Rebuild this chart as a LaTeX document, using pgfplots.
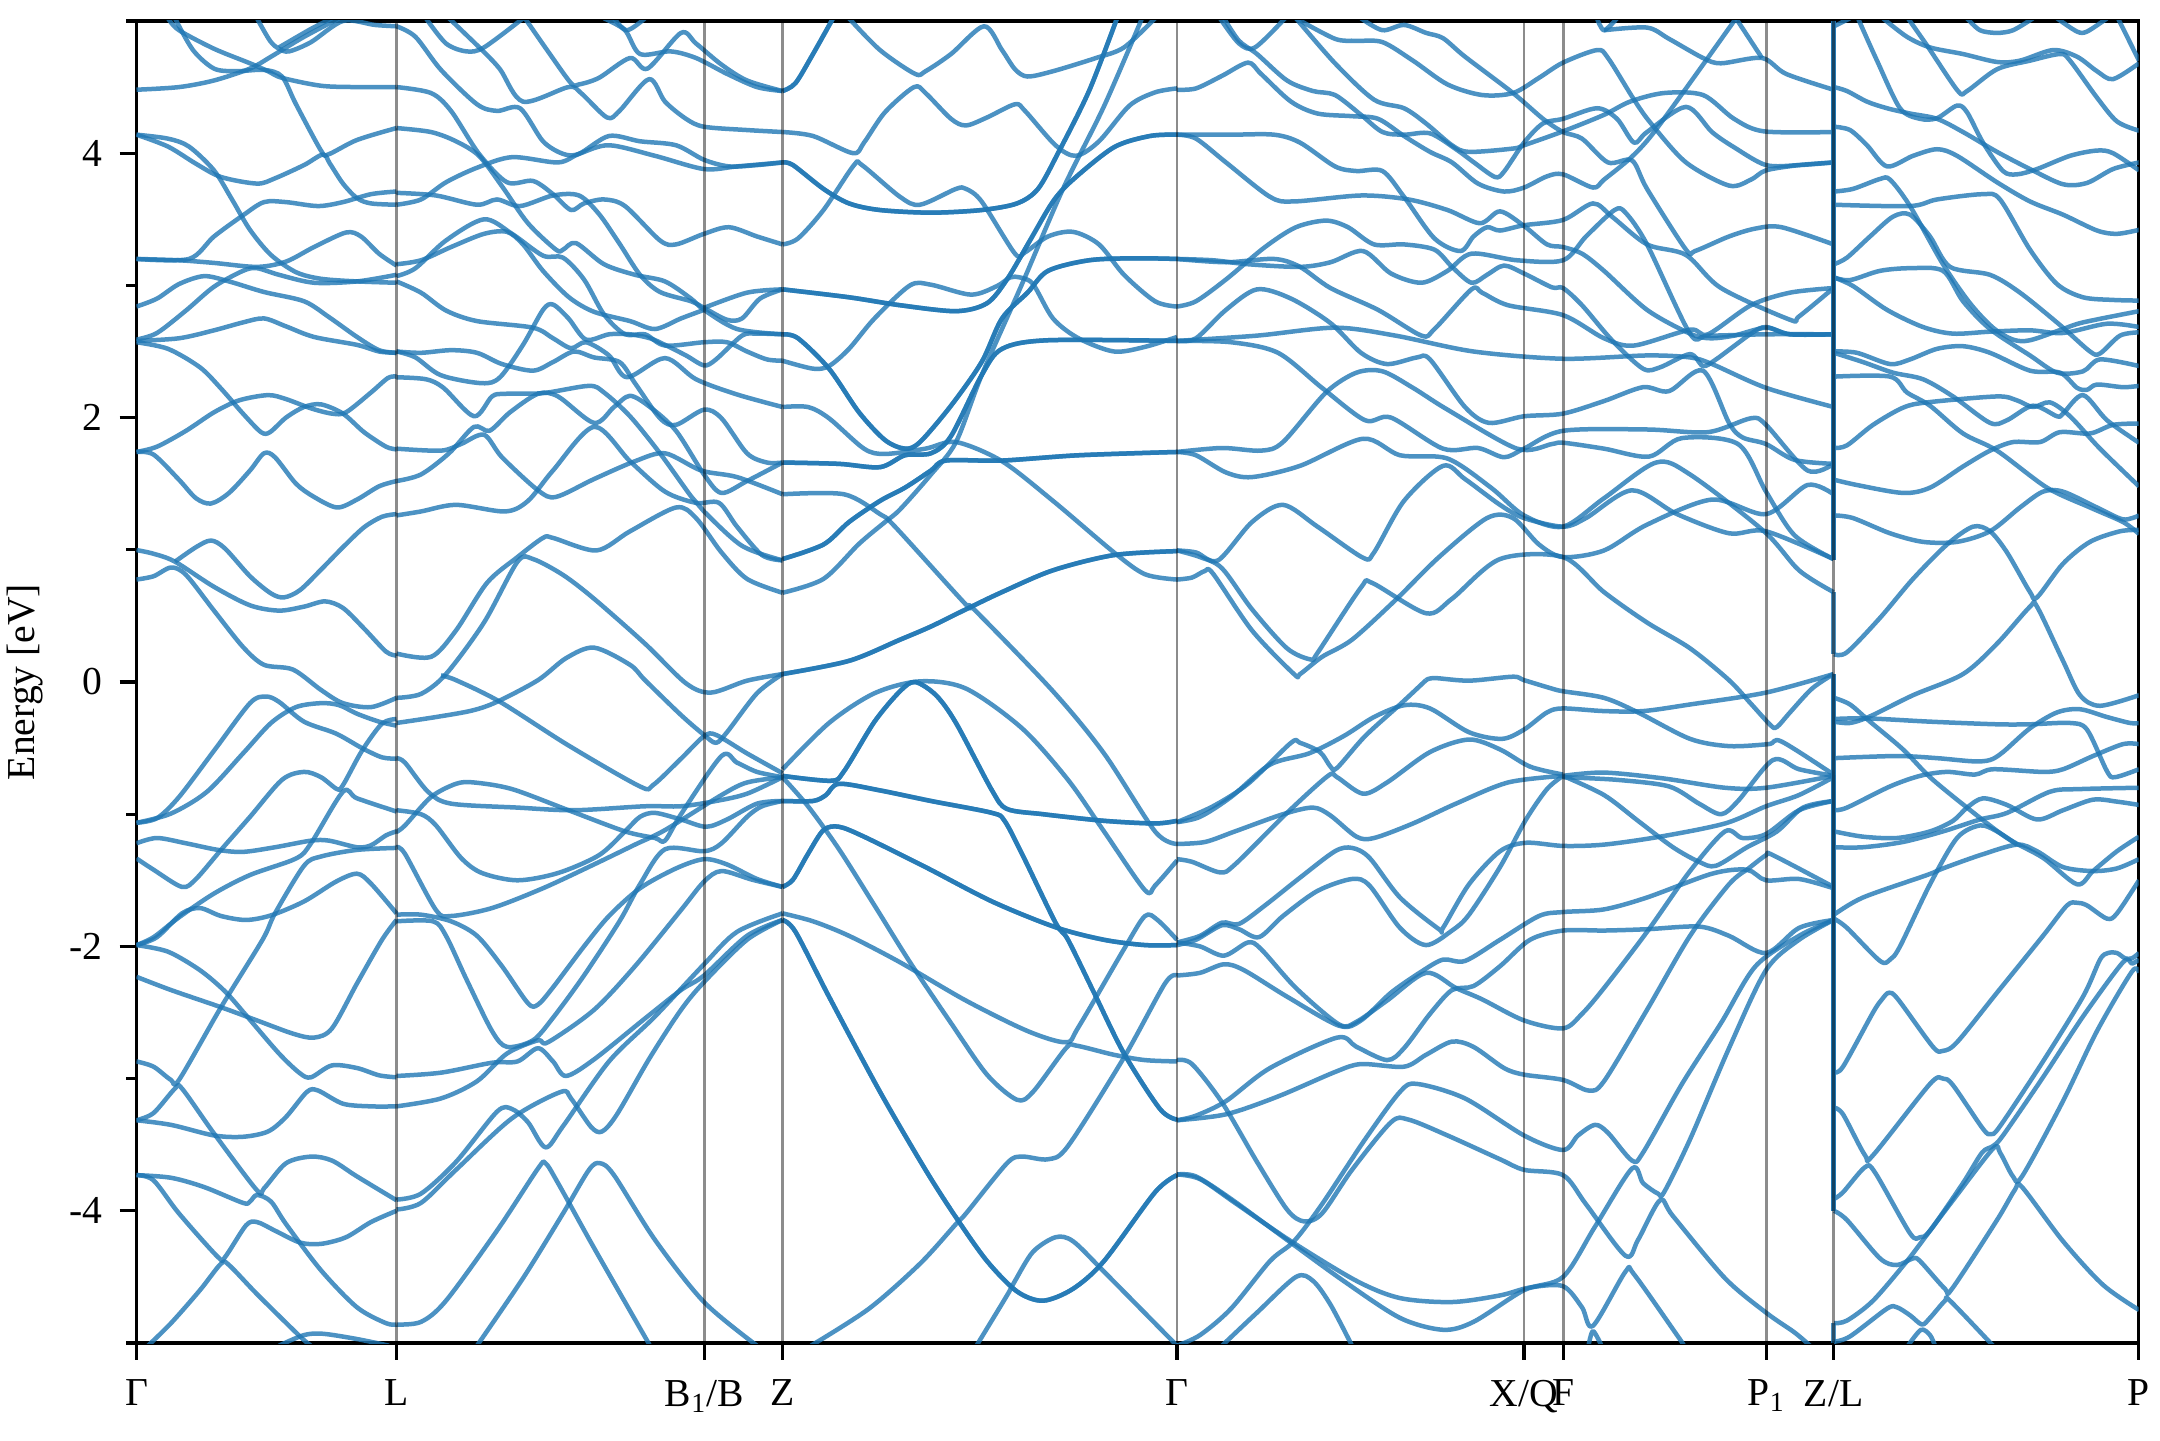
\documentclass[border=0pt]{standalone}
\usepackage{fontspec}
\setmainfont{Liberation Serif}
\usepackage{pgfplots}
\pgfplotsset{compat=1.18}
\definecolor{bandblue}{HTML}{1F77B4}
\pgfplotsset{band/.style={color=bandblue,opacity=0.8,line width=1.5pt,smooth,tension=0.5,line join=round,mark=none}}
\newcommand{\B}[1]{\addplot[band] coordinates {#1};}
\newcommand{\BB}[1]{\addplot[band] coordinates {#1};\addplot[band] coordinates {#1};}
\newcommand{\V}[1]{\addplot[black,opacity=0.45,line width=0.7pt] coordinates {(#1,-5)(#1,5)};}
\newcommand{\J}[2]{\addplot[color=bandblue,opacity=0.8,line width=1.5pt] coordinates {(1833.5,#1)(1833.5,#2)};}
\begin{document}
\begin{tikzpicture}
\useasboundingbox (-45.5pt,-32.33pt) rectangle (674.5pt,447.67pt);
\begin{axis}[
  at={(0,0)},anchor=south west,scale only axis,
  width=667.33pt,height=440.67pt,
  xmin=136.5,xmax=2138.5,ymin=-5,ymax=5,
  axis line style={line width=1.2pt},
  every tick/.style={black,line width=1.1pt},
  tick align=outside,tick pos=left,
  major tick length=5.6pt,minor tick length=3.4pt,
  xtick={136.5,396.5,704.5,782.5,1177,1524,1563.5,1766.5,1833.5,2138.5},
  xticklabels={Γ,L,B\textsubscript{1}/B,Z,Γ,X/Q,F,P\textsubscript{1},Z/L,P},
  ytick={-4,-2,0,2,4},yticklabels={-4,-2,0,2,4},
  minor ytick={-5,-3,-1,1,3,5},
  minor x tick num=0,
  tick label style={font=\fontsize{13.2}{15}\selectfont},
  xticklabel style={yshift=-3.2pt},
  yticklabel style={xshift=-2.3pt},
  ylabel={Energy [eV]},
  every axis y label/.style={at={(axis description cs:-0.0555,0.5)},anchor=center,rotate=90,font=\fontsize{13.2}{15}\selectfont},
  clip=true,
]
% Gamma - L
\B{(168,5.02)(179,4.93)(214,4.79)(250,4.68)(268,4.62)(282,4.57)(321,4.51)(357,4.50)(396.5,4.50)}
\B{(175,5.02)(193,4.78)(214,4.64)(236,4.62)(264,4.63)(282,4.58)(296,4.37)(321,4.02)(328,3.99)(357,4.10)(396.5,4.19)}
\B{(136.5,4.48)(179,4.50)(214,4.55)(250,4.64)(271,4.73)(304,4.88)(339,5.02)}
\B{(257,5.02)(270,4.85)(279,4.79)(289,4.77)(311,4.84)(343,5.0)(375,4.97)(396.5,4.96)}
\B{(279,4.80)(311,4.94)(332,5.02)}
\B{(136.5,4.14)(168,4.11)(189,4.05)(214,3.87)(232,3.65)(250,3.42)(271,3.23)(296,3.10)(321,3.05)(357,3.03)(396.5,3.02)}
\B{(136.5,4.14)(168,4.05)(196,3.92)(221,3.82)(257,3.77)(275,3.81)(304,3.91)(323,3.99)(330,3.92)(343,3.77)(357,3.66)(371,3.62)(396.5,3.61)}
\B{(136.5,3.20)(189,3.20)(214,3.37)(243,3.53)(264,3.63)(286,3.63)(318,3.60)(343,3.63)(371,3.69)(396.5,3.71)}
\B{(136.5,3.20)(179,3.19)(214,3.17)(257,3.14)(286,3.18)(314,3.29)(346,3.40)(361,3.37)(379,3.24)(396.5,3.15)}
\B{(136.5,2.84)(157,2.90)(179,3.01)(204,3.07)(229,3.03)(264,2.95)(304,2.88)(329,2.76)(357,2.61)(379,2.51)(396.5,2.49)}
\B{(136.5,2.59)(157,2.64)(186,2.81)(214,2.99)(243,3.11)(257,3.13)(279,3.08)(314,3.02)(357,3.03)(396.5,3.08)}
\B{(136.5,2.58)(179,2.60)(214,2.66)(243,2.72)(264,2.75)(286,2.69)(314,2.61)(357,2.55)(379,2.50)(396.5,2.49)}
\B{(136.5,2.57)(168,2.52)(200,2.38)(221,2.22)(243,2.03)(261,1.89)(270,1.89)(286,2.00)(304,2.08)(321,2.10)(343,2.03)(364,1.89)(386,1.78)(396.5,1.76)}
\B{(136.5,1.74)(157,1.78)(186,1.90)(214,2.04)(239,2.13)(268,2.17)(286,2.14)(311,2.07)(332,2.03)(346,2.04)(371,2.19)(388,2.30)(396.5,2.31)}
\B{(136.5,1.74)(153.6,1.72)(179,1.53)(196,1.39)(211,1.35)(229,1.43)(250,1.60)(264,1.73)(275,1.70)(296,1.50)(314,1.40)(337,1.32)(357,1.38)(379,1.48)(396.5,1.52)}
\B{(175,0.91)(196,1.02)(211,1.07)(225,1.01)(250,0.80)(271,0.67)(284,0.64)(300,0.695)(321,0.85)(343,1.02)(364,1.17)(382,1.25)(396.5,1.27)}
\B{(136.5,0.998)(153.6,0.97)(175,0.91)(214,0.72)(250,0.58)(279,0.54)(304,0.57)(325,0.61)(343,0.56)(364,0.405)(386,0.23)(396.5,0.20)}
\B{(136.5,0.775)(153.6,0.80)(171,0.866)(186,0.81)(214,0.54)(243,0.265)(264,0.13)(293,0.094)(321,-0.06)(343,-0.16)(371,-0.19)(396.5,-0.12)}
\B{(136.5,-1.065)(157,-1.03)(179,-0.87)(214,-0.52)(250,-0.16)(266,-0.11)(279,-0.15)(304,-0.30)(336,-0.39)(362,-0.50)(382,-0.57)(396.5,-0.58)}
\B{(136.5,-1.065)(171,-0.995)(207,-0.83)(243,-0.54)(271,-0.31)(296,-0.19)(321,-0.16)(339,-0.175)(357,-0.24)(379,-0.30)(396.5,-0.33)}
\B{(136.5,-1.22)(157,-1.18)(186,-1.22)(218,-1.27)(243,-1.285)(275,-1.25)(311,-1.20)(329,-1.20)(357,-1.25)(371,-1.235)(386,-1.16)(396.5,-1.13)}
\B{(136.5,-1.335)(153.6,-1.42)(182,-1.55)(196,-1.49)(221,-1.27)(250,-1.02)(282,-0.74)(304,-0.68)(321,-0.72)(337,-0.81)(343,-0.78)(362,-0.52)(382,-0.315)(396.5,-0.28)}
\B{(136.5,-1.99)(157,-1.93)(182,-1.75)(200,-1.71)(221,-1.77)(246,-1.80)(271,-1.765)(304,-1.66)(336,-1.51)(357,-1.45)(371,-1.525)(396.5,-1.75)}
\B{(136.5,-1.99)(153.6,-1.93)(179,-1.78)(214,-1.60)(250,-1.46)(296,-1.335)(311,-1.22)(343,-0.83)(357,-0.88)(396.5,-0.98)}
\B{(136.5,-2.87)(153.6,-2.91)(171,-3.01)(179,-3.01)(221,-2.46)(262.5,-1.95)(275,-1.75)(304,-1.39)(321,-1.32)(357,-1.27)(396.5,-1.255)}
\B{(136.5,-1.99)(168,-2.04)(200,-2.18)(225,-2.34)(246,-2.52)(279,-2.81)(300,-2.96)(311,-2.99)(332,-2.90)(357,-2.92)(379,-2.975)(396.5,-2.99)}
\B{(136.5,-2.23)(171,-2.33)(221,-2.46)(257,-2.56)(293,-2.66)(314,-2.69)(332,-2.62)(357,-2.28)(382,-1.95)(396.5,-1.80)}
\B{(136.5,-3.315)(153.6,-3.26)(175,-3.075)(182,-3.075)(214,-3.415)(257,-3.845)(264,-3.83)(286,-3.64)(311,-3.59)(332,-3.62)(357,-3.74)(396.5,-3.92)}
\B{(136.5,-3.315)(171,-3.35)(214,-3.43)(243,-3.44)(268,-3.40)(286,-3.29)(307,-3.10)(318,-3.09)(343,-3.19)(371,-3.21)(396.5,-3.21)}
\B{(136.5,-3.73)(171,-3.75)(204,-3.82)(243,-3.94)(250,-3.93)(257,-3.88)(271,-3.93)(286,-4.10)(321,-4.45)(357,-4.73)(386,-4.85)(396.5,-4.86)}
\B{(136.5,-3.73)(153.6,-3.77)(179,-4.02)(218,-4.35)(225,-4.35)(246,-4.11)(257,-4.085)(275,-4.15)(300,-4.24)(321,-4.25)(346,-4.2)(371,-4.085)(396.5,-4.0)}
\B{(148,-5.02)(171,-4.85)(200,-4.6)(221,-4.40)(229,-4.41)(257,-4.63)(300,-4.95)(311,-5.02)}
\B{(279,-5.02)(304,-4.94)(323,-4.93)(357,-4.97)(389,-5.02)}
% L - Z
\B{(396.5,4.96)(415.5,4.88)(441,4.63)(477,4.37)(497,4.32)(520,4.34)(543,4.09)(563,3.995)(579,3.995)(609,4.13)(640,4.09)(676,4.06)(704,3.95)(729,3.90)(757,3.91)(782.5,3.93)}
\B{(396.5,3.61)(421,3.65)(446,3.78)(477,3.89)(512,3.97)(558,3.93)(579,3.995)(609,4.06)(655,3.98)(704,3.88)(737,3.90)(782.5,3.93)}
\B{(396.5,4.50)(431,4.455)(451,4.32)(479,3.995)(507,3.78)(533,3.79)(553,3.69)(571,3.57)(584,3.62)(604,3.65)(625,3.60)(660,3.34)(676,3.31)(704,3.39)(729,3.44)(757,3.37)(782.5,3.31)}
\B{(396.5,4.19)(431,4.16)(456,4.09)(479,3.98)(502,3.75)(528,3.47)(556,3.27)(563,3.27)(576,3.32)(604,3.16)(635,3.08)(665,3.03)(691,2.90)(704,2.815)(737,2.67)(782.5,2.63)}
\B{(396.5,3.70)(436,3.68)(477,3.61)(497,3.65)(520,3.60)(553,3.68)(579,3.68)(599,3.54)(620,3.31)(640,3.08)(660,2.95)(691,2.88)(704,2.83)(727,2.74)(742,2.75)(760,2.90)(782.5,2.97)}
\B{(704,2.83)(747,2.945)(782.5,2.97)}
\B{(396.5,3.03)(421,2.945)(446,2.81)(477,2.73)(533,2.68)(553,2.60)(571,2.525)(586,2.57)(609,2.47)(627,2.305)(665,2.45)(696,2.29)(737,2.175)(782.5,2.08)}
\B{(396.5,3.16)(421,3.19)(451,3.29)(484,3.39)(507,3.405)(523,3.31)(543,3.11)(569,2.91)(594,2.80)(630,2.73)(655,2.67)(681,2.75)(704,2.815)}
\B{(396.5,3.07)(415.5,3.13)(446,3.34)(484,3.50)(512,3.39)(543,3.225)(563,3.21)(584,3.045)(604,2.78)(625,2.63)(645,2.63)(665,2.545)(704,2.57)(727,2.57)(747,2.50)(767,2.44)(782.5,2.43)}
\B{(396.5,2.50)(421,2.49)(451,2.51)(477,2.49)(502,2.405)(533,2.355)(553,2.42)(574,2.50)(594,2.455)(619.5,2.42)(635,2.26)(660,1.995)(676,1.945)(704,2.06)(721.5,1.995)(747,1.73)(767,1.66)(782.5,1.66)}
\B{(396.5,2.50)(415.5,2.455)(441,2.32)(482,2.26)(500,2.305)(523,2.55)(543,2.815)(553,2.855)(568.5,2.75)(586,2.59)(609,2.63)(630,2.63)(650,2.60)(665,2.55)(686,2.47)(704,2.395)(716,2.44)(742,2.62)(757,2.635)(782.5,2.63)}
\B{(396.5,2.305)(426,2.29)(443.5,2.225)(474,2.01)(492,2.16)(505,2.18)(543,2.185)(589,2.24)(604,2.19)(630,2.01)(660,1.73)(691,1.405)(704,1.29)(742,1.03)(782.5,0.92)}
\B{(396.5,1.52)(421,1.57)(449,1.73)(474,1.93)(489.5,1.90)(510,2.04)(538,2.18)(558,2.16)(594,1.96)(614,2.08)(630,2.165)(650,2.08)(676,1.90)(704,1.57)(721.5,1.43)(747,1.52)(782.5,1.66)}
\B{(396.5,1.765)(441,1.75)(461,1.80)(484,1.87)(502,1.70)(538,1.45)(556,1.40)(594,1.535)(635,1.67)(665,1.73)(701,1.60)(737,1.55)(782.5,1.42)}
\B{(396.5,1.26)(421,1.29)(456,1.34)(505,1.29)(528,1.37)(553,1.60)(594,1.93)(630,1.67)(665,1.44)(696,1.355)(719,1.355)(737,1.175)(762,0.96)(782.5,0.92)}
\B{(396.5,0.215)(431,0.19)(456,0.39)(487,0.75)(517.5,0.945)(543,1.09)(553,1.09)(596.5,0.995)(630,1.14)(676,1.32)(696,1.24)(721.5,0.98)(747,0.78)(782.5,0.675)}
\B{(396.5,-0.12)(421,-0.09)(446,0.06)(484,0.45)(517.5,0.91)(533,0.93)(563,0.81)(594,0.63)(645,0.29)(686,-0.01)(711,-0.08)(747,0.01)(782.5,0.06)}
\B{(396.5,-0.31)(436,-0.265)(472,-0.216)(497,-0.15)(538,0.014)(566,0.18)(594,0.26)(630,0.13)(645,0.014)(681,-0.25)(704,-0.40)(716,-0.46)(727,-0.38)(757,-0.085)(782.5,0.06)}
\B{(441,0.05)(456,0.014)(500,-0.15)(568.5,-0.48)(640,-0.79)(653,-0.78)(681,-0.58)(704,-0.41)(716,-0.40)(747,-0.54)(782.5,-0.69)}
\B{(396.5,-0.576)(405,-0.61)(428,-0.83)(451,-0.92)(517.5,-0.95)(574,-0.97)(645,-0.94)(681,-0.94)(716,-0.90)(747,-0.845)(782.5,-0.72)}
\B{(396.5,-1.134)(405,-1.085)(431,-0.87)(456,-0.77)(474,-0.76)(512,-0.81)(568.5,-0.97)(625,-1.13)(655,-1.18)(665,-1.20)(681,-1.0)(721.5,-0.56)(737,-0.61)(757,-0.68)(782.5,-0.72)}
\B{(396.5,-0.97)(421,-1.0)(436,-1.085)(461,-1.33)(482,-1.445)(517.5,-1.50)(558,-1.445)(599,-1.31)(625,-1.13)(640,-1.02)(655,-0.99)(681,-1.04)(706,-1.095)(727,-1.04)(757,-0.92)(782.5,-0.90)}
\B{(396.5,-1.25)(405,-1.30)(436,-1.725)(451,-1.77)(492,-1.71)(543,-1.56)(594,-1.38)(635,-1.23)(665,-1.12)(721.5,-0.855)(747,-0.76)(782.5,-0.72)}
\B{(396.5,-1.76)(421,-1.76)(451,-1.81)(477,-1.92)(502,-2.15)(528,-2.43)(538,-2.44)(553,-2.31)(584,-2.0)(609,-1.77)(640,-1.56)(676,-1.41)(704,-1.34)(727,-1.38)(757,-1.49)(782.5,-1.55)}
\B{(396.5,-1.81)(433,-1.81)(446,-1.92)(466.5,-2.25)(492,-2.64)(507,-2.76)(533,-2.71)(553,-2.54)(584,-2.22)(619.5,-1.81)(640,-1.53)(665,-1.265)(704,-1.28)(721.5,-1.22)(747,-1.02)(762,-0.94)(782.5,-0.90)}
\B{(396.5,-2.98)(441,-2.955)(492,-2.88)(517.5,-2.87)(538,-2.77)(553,-2.87)(566,-2.98)(594,-2.855)(645,-2.545)(681,-2.33)(704,-2.22)(747,-1.92)(782.5,-1.80)}
\B{(396.5,-3.21)(441,-3.15)(477,-3.02)(507,-2.81)(538,-2.71)(548,-2.725)(594,-2.48)(635,-2.15)(681,-1.725)(704,-1.51)(721.5,-1.43)(752,-1.495)(782.5,-1.55)}
\B{(396.5,-3.915)(421,-3.87)(456,-3.63)(497,-3.25)(512,-3.23)(528,-3.33)(545.5,-3.52)(563,-3.36)(609,-2.87)(655,-2.53)(704,-2.135)(737,-1.89)(782.5,-1.75)}
\B{(396.5,-3.99)(421,-3.94)(456,-3.69)(512,-3.30)(561,-3.10)(571,-3.15)(591,-3.365)(602,-3.40)(617,-3.27)(650,-2.84)(681,-2.48)(704,-2.27)(747,-1.95)(782.5,-1.80)}
\B{(396.5,-4.86)(421,-4.84)(446,-4.68)(497,-4.15)(538,-3.68)(545.5,-3.64)(558,-3.79)(594,-4.28)(650,-5.02)}
\B{(477,-5.02)(523,-4.51)(563,-4.02)(589,-3.69)(600,-3.64)(614,-3.73)(655,-4.22)(704,-4.69)(757,-5.02)}
\B{(449,5.02)(482,4.78)(500,4.635)(523,4.39)(568.5,4.50)(581,4.455)(607,4.27)(619.5,4.32)(649,4.56)(665,4.39)(686,4.26)(704,4.20)(747,4.175)(782.5,4.16)}
\B{(426,5.02)(446,4.83)(466.5,4.77)(484,4.80)(523,5.02)}
\B{(525,5.02)(548,4.77)(571,4.53)(579,4.52)(599,4.57)(630,4.72)(647.5,4.64)(681,4.91)(696,4.83)(721.5,4.67)(747,4.55)(782.5,4.47)}
\B{(604,5.02)(625,4.93)(640,4.75)(670.5,4.77)(696,4.72)(727,4.60)(757,4.50)(782.5,4.47)}
\B{(614,5.02)(627,4.93)(645,5.02)}
% Z - Gamma
\BB{(782.5,4.47)(795.5,4.53)(813,4.75)(833,5.02)}
\B{(849,5.02)(880,4.78)(915,4.60)(925.5,4.62)(951,4.75)(984,4.96)(1002,4.78)(1015,4.635)(1027.5,4.58)(1053,4.62)(1096,4.72)(1124,4.80)(1155,5.02)}
\B{(782.5,4.16)(813,4.13)(853,4.0)(864,4.08)(885,4.31)(914,4.50)(925.5,4.455)(951,4.26)(966,4.21)(987,4.27)(1015,4.37)(1025,4.32)(1055.5,4.06)(1076,3.98)(1099,4.09)(1129.5,4.36)(1155,4.46)(1177,4.49)}
\BB{(782.5,3.93)(793,3.91)(823.5,3.73)(849,3.62)(880,3.57)(931,3.55)(981.6,3.57)(1017,3.62)(1038,3.73)(1058,4.0)(1089,4.47)(1117,5.02)}
\B{(782.5,3.31)(798,3.355)(823.5,3.57)(854,3.91)(862,3.91)(900,3.67)(920,3.61)(956,3.73)(966,3.73)(981.6,3.635)(1015,3.24)(1025,3.25)(1048,3.37)(1073,3.405)(1099,3.31)(1124,3.08)(1155,2.88)(1177,2.84)}
\BB{(782.5,2.97)(849,2.91)(900,2.85)(956,2.805)(987,2.865)(1007,3.045)(1030,3.34)(1053,3.635)(1073,3.80)(1114,4.045)(1150,4.13)(1177,4.14)}
\B{(782.5,0.675)(823.5,0.78)(859,1.045)(885,1.21)(900,1.305)(931,1.57)(956,1.815)(981.6,2.32)(1022,3.01)(1063,3.73)(1104,4.355)(1142,5.02)}
\BB{(782.5,2.63)(798,2.60)(829,2.37)(859,2.04)(885,1.83)(905,1.765)(920,1.815)(951,2.09)(981.6,2.42)(1002,2.75)(1027.5,2.945)(1048,3.11)(1089,3.19)(1135,3.205)(1177,3.20)}
\BB{(782.5,1.66)(839,1.65)(880,1.625)(905,1.715)(931,1.73)(951,1.86)(981.6,2.32)(1002,2.52)(1048,2.585)(1177,2.58)}
\BB{(782.5,0.93)(823.5,1.04)(849,1.21)(880,1.37)(905,1.47)(931,1.60)(946,1.675)(1002,1.675)(1078.5,1.715)(1177,1.74)}
\BB{(782.5,0.06)(849,0.16)(900,0.32)(931,0.42)(966,0.55)(1002,0.68)(1053,0.845)(1114,0.96)(1177,0.99)}
\B{(782.5,2.43)(813,2.37)(829,2.39)(849,2.52)(874.5,2.75)(910,3.0)(931,3.005)(971,2.93)(997,2.995)(1010,3.06)(1020,3.06)(1033,3.01)(1053,2.75)(1078.5,2.60)(1114,2.50)(1145,2.535)(1177,2.61)}
\B{(782.5,2.08)(808,2.08)(829,1.995)(864,1.765)(885,1.725)(925.5,1.765)(956,1.815)(1002,1.67)(1053,1.37)(1114,0.98)(1145,0.815)(1177,0.775)}
\B{(782.5,1.42)(844,1.42)(880,1.27)(895,1.175)(966,0.585)(974,0.55)(1053,-0.07)(1104,-0.54)(1155,-1.13)(1177,-1.225)}
\B{(782.5,-0.66)(829,-0.31)(874.5,-0.085)(920,0.005)(966,-0.05)(1022,-0.35)(1068,-0.74)(1104,-1.13)(1145,-1.575)(1155,-1.54)(1177,-1.35)}
\BB{(782.5,-0.71)(831,-0.747)(844,-0.675)(874.5,-0.30)(900,-0.07)(915,0.0)(936,-0.10)(956,-0.31)(992,-0.82)(1007,-0.96)(1043,-1.0)(1104,-1.05)(1155,-1.07)(1177,-1.05)}
\BB{(782.5,-0.90)(813,-0.90)(826,-0.855)(839,-0.77)(880,-0.82)(931,-0.90)(992,-0.99)(1004.5,-1.05)(1022,-1.30)(1055.5,-1.82)(1068,-1.95)(1094,-2.35)(1124,-2.81)(1160,-3.23)(1177,-3.31)}
\BB{(782.5,-1.55)(793,-1.495)(808,-1.30)(823.5,-1.12)(839,-1.095)(864,-1.17)(925.5,-1.40)(992,-1.66)(1055.5,-1.855)(1104,-1.95)(1145,-1.99)(1177,-1.99)}
\B{(782.5,-0.72)(808,-0.94)(839,-1.265)(874.5,-1.69)(910,-2.12)(951,-2.58)(987,-2.97)(1017,-3.16)(1033,-3.10)(1066,-2.77)(1076,-2.75)(1114,-2.82)(1145,-2.86)(1177,-2.87)}
\B{(782.5,-1.75)(813,-1.81)(849,-1.92)(900,-2.12)(966,-2.41)(1027.5,-2.64)(1066,-2.725)(1078.5,-2.61)(1124,-2.02)(1145,-1.77)(1157.5,-1.80)(1177,-1.95)}
\BB{(782.5,-1.80)(795.5,-1.89)(829,-2.38)(880,-3.10)(925.5,-3.69)(956,-4.05)(987,-4.38)(1017,-4.61)(1043,-4.68)(1073,-4.59)(1104,-4.38)(1155,-3.86)(1177,-3.73)}
\B{(811,-5.02)(869,-4.74)(920,-4.40)(956,-4.10)(966,-4.02)(1007,-3.64)(1022,-3.59)(1048,-3.61)(1068,-3.51)(1124,-2.84)(1165,-2.28)(1177,-2.22)}
\B{(976.5,-5.02)(1007,-4.64)(1015,-4.53)(1033,-4.31)(1055.5,-4.20)(1073,-4.23)(1104,-4.46)(1177,-5.02)}
% Gamma - X/Q - F - P1 - Z
\B{(1220,5.02)(1239,4.83)(1255,4.80)(1285,5.02)}
\B{(1224,5.02)(1239,4.85)(1257,4.75)(1287,4.55)(1313,4.47)(1335,4.44)(1361,4.29)(1382.5,4.16)(1404,4.14)(1430,4.15)(1456,4.03)(1474,3.93)(1495,3.82)(1504,3.86)(1524,4.08)(1543,4.225)(1563,4.26)(1597,4.34)(1617,4.26)(1634,4.08)(1647,4.16)(1686,4.35)(1712,4.16)(1734,4.045)(1766,3.91)(1799,3.91)(1833.5,3.93)}
\B{(1177,4.48)(1196,4.49)(1222,4.585)(1248,4.685)(1261,4.60)(1291,4.39)(1317.5,4.30)(1352,4.28)(1378,4.26)(1404,4.13)(1430,4.01)(1452,3.93)(1478,3.77)(1504,3.71)(1524,3.74)(1547,3.825)(1563,3.84)(1593,3.74)(1604,3.80)(1630,3.96)(1651,4.13)(1686,4.49)(1736,5.02)}
\B{(1296,5.02)(1335,4.865)(1356.5,4.85)(1382.5,4.84)(1413,4.70)(1447.5,4.52)(1482,4.44)(1513,4.455)(1539,4.57)(1563,4.685)(1597,4.78)(1608,4.72)(1634,4.405)(1651,4.225)(1686,3.93)(1729,3.755)(1751,3.80)(1766,3.87)(1799,3.91)(1833.5,3.93)}
\B{(1296,5.02)(1335,4.68)(1374,4.405)(1404,4.34)(1426,4.225)(1452,4.06)(1469,4.01)(1513,4.035)(1524,4.06)(1563,4.165)(1604,4.29)(1630,4.39)(1664,4.455)(1703,4.44)(1734,4.26)(1764,4.165)(1833.5,4.16)}
\B{(1361,5.02)(1382.5,4.93)(1404,4.97)(1426,4.91)(1443,4.87)(1465,4.73)(1513,4.455)(1543,4.26)(1563,4.16)(1582,4.11)(1608,3.93)(1632,3.945)(1647,3.73)(1686,3.27)(1695,3.26)(1729,3.37)(1755.5,3.43)(1781.5,3.44)(1833.5,3.31)}
\B{(1597,5.02)(1604,4.93)(1617,5.02)}
\B{(1604,4.93)(1647,4.95)(1669,4.865)(1703,4.72)(1721,4.68)(1762,4.72)(1786,4.60)(1833.5,4.48)}
\B{(1736,5.02)(1762,4.72)}
\B{(1177,4.14)(1231,4.14)(1274,4.14)(1300,4.08)(1335,3.90)(1356.5,3.865)(1382.5,3.865)(1404,3.67)(1434.5,3.355)(1460.5,3.26)(1473.5,3.37)(1487,3.44)(1500,3.415)(1524,3.455)(1563,3.495)(1593,3.62)(1612,3.52)(1647,3.31)(1686,3.23)(1721,2.98)(1790,2.74)(1799,2.765)(1833.5,2.98)}
\B{(1177,4.14)(1196,4.11)(1226,3.93)(1270,3.67)(1294,3.635)(1361,3.68)(1408.5,3.65)(1447.5,3.57)(1480,3.47)(1500,3.56)(1524,3.45)(1547,3.31)(1563,3.29)(1582,3.24)(1604,3.11)(1647,2.815)(1690,2.635)(1710,2.60)(1734,2.62)(1766,2.68)(1790,2.63)(1833.5,2.63)}
\B{(1177,3.20)(1213,3.19)(1248,3.16)(1300,3.14)(1330.5,3.175)(1363,3.26)(1391,3.09)(1421.5,3.02)(1447.5,3.11)(1471.5,3.24)(1517,3.19)(1563,3.19)(1586,3.37)(1614.5,3.57)(1625.5,3.55)(1647,3.31)(1690,2.635)(1708,2.62)(1766,2.63)(1833.5,2.63)}
\B{(1177,3.20)(1226,3.175)(1274,3.20)(1300,3.14)(1330.5,2.98)(1378,2.815)(1421.5,2.62)(1434.5,2.67)(1471.5,2.97)(1482,2.945)(1508,2.85)(1563,2.775)(1604,2.60)(1634,2.545)(1690,2.665)(1708,2.63)(1751,2.85)(1790,2.945)(1833.5,2.98)}
\B{(1177,2.84)(1196,2.88)(1226,3.045)(1265,3.29)(1296,3.44)(1326,3.49)(1348,3.44)(1374,3.31)(1404,3.31)(1434.5,3.27)(1452,3.14)(1471.5,3.02)(1487,3.08)(1504,3.15)(1524,3.09)(1552,2.985)(1563,2.98)(1582,2.85)(1612,2.585)(1643,2.37)(1660,2.38)(1690,2.48)(1703,2.39)(1716,2.44)(1751,2.635)(1766,2.685)(1790,2.63)(1833.5,2.63)}
\B{(1177,2.58)(1196,2.60)(1226,2.815)(1257,2.97)(1291,2.90)(1330.5,2.715)(1361,2.49)(1387,2.405)(1417,2.455)(1430,2.44)(1465,2.08)(1489,1.96)(1524,2.01)(1563,2.03)(1604,2.125)(1643,2.23)(1669,2.20)(1703,2.355)(1729,1.96)(1742.5,1.85)(1766,1.80)(1794.5,1.68)(1833.5,1.65)}
\B{(1177,2.58)(1231,2.57)(1278,2.49)(1322,2.225)(1365,1.98)(1391,2.0)(1443,1.765)(1478,1.77)(1504,1.70)(1524,1.765)(1563,1.90)(1647,1.91)(1708,1.89)(1751,1.995)(1766,1.945)(1807.5,1.60)(1833.5,1.65)}
\B{(1177,2.58)(1257,2.62)(1335,2.68)(1395.5,2.62)(1473.5,2.50)(1563,2.445)(1647,2.47)(1690,2.455)(1712,2.405)(1766,2.225)(1833.5,2.08)}
\B{(1177,1.74)(1222,1.77)(1261,1.75)(1283,1.815)(1326,2.19)(1356.5,2.34)(1382.5,2.35)(1413,2.225)(1447.5,2.06)(1517,1.765)(1552,1.80)(1563,1.81)(1604,1.765)(1649,1.705)(1682,1.845)(1738,1.80)(1766,1.44)(1794.5,1.11)(1833.5,0.93)}
\B{(1177,1.74)(1196,1.715)(1226,1.585)(1252,1.55)(1300,1.635)(1363,1.84)(1400,1.715)(1447.5,1.69)(1491,1.47)(1524,1.26)(1563,1.175)(1604,1.39)(1656,1.66)(1690,1.57)(1764,1.14)(1799,0.845)(1833.5,0.68)}
\B{(1177,0.995)(1196,0.98)(1218,0.92)(1252,1.21)(1283,1.34)(1317.5,1.175)(1363,0.94)(1374,0.98)(1404,1.37)(1443,1.635)(1465,1.535)(1500,1.34)(1524,1.24)(1563,1.175)(1586,1.24)(1632,1.45)(1677,1.27)(1729,1.125)(1766,1.14)(1833.5,0.93)}
\B{(1177,0.775)(1192,0.79)(1205,0.84)(1213,0.82)(1252,0.39)(1294,0.06)(1300,0.06)(1322,0.19)(1352,0.32)(1395.5,0.62)(1439,0.945)(1487,1.24)(1513,1.24)(1539,1.04)(1563,0.945)(1604,0.995)(1647,1.19)(1712,1.38)(1766,1.27)(1807.5,1.49)(1833.5,1.42)}
\B{(1177,0.995)(1200,0.945)(1222,0.86)(1252,0.55)(1287,0.255)(1311,0.17)(1317.5,0.22)(1361,0.715)(1372,0.75)(1426,0.52)(1452,0.63)(1500,0.93)(1563,0.945)(1604,0.68)(1647,0.45)(1690,0.255)(1729,0.014)(1751,-0.165)(1771,-0.33)(1777,-0.34)(1790,-0.23)(1812,-0.05)(1833.5,0.06)}
\B{(1426,0.014)(1434.5,0.03)(1469,0.01)(1513,0.04)(1524,0.014)(1552,-0.05)(1563,-0.07)(1604,-0.12)(1638,-0.23)(1690,-0.43)(1729,-0.485)(1768.5,-0.47)(1781.5,-0.45)(1833.5,-0.70)}
\B{(1177,-1.06)(1213,-0.94)(1248,-0.77)(1291,-0.46)(1300,-0.46)(1320,-0.53)(1330.5,-0.64)(1337,-0.65)(1365,-0.41)(1400,-0.17)(1426,0.014)}
\B{(1177,-1.06)(1200,-1.02)(1231,-0.87)(1270,-0.625)(1309,-0.54)(1343.5,-0.41)(1374,-0.265)(1404,-0.176)(1430,-0.20)(1469,-0.38)(1502,-0.43)(1524,-0.36)(1547,-0.23)(1563,-0.20)(1604,-0.22)(1643,-0.22)(1690,-0.17)(1766,-0.08)(1833.5,0.06)}
\B{(1177,-1.225)(1205,-1.21)(1235,-1.13)(1283,-1.0)(1313,-0.95)(1330.5,-1.01)(1356.5,-1.17)(1374,-1.18)(1413,-1.07)(1456,-0.92)(1508,-0.76)(1563,-0.71)}
\B{(1177,-1.34)(1192,-1.36)(1220,-1.44)(1235,-1.38)(1287,-0.99)(1328,-0.71)(1337,-0.72)(1363,-0.845)(1387,-0.76)(1430,-0.53)(1469,-0.435)(1500,-0.51)(1530,-0.64)(1563,-0.70)}
\B{(1177,-1.97)(1200,-1.92)(1222,-1.82)(1239,-1.83)(1265,-1.69)(1300,-1.48)(1335,-1.28)(1352,-1.255)(1369.5,-1.33)(1400,-1.63)(1439,-1.87)(1443,-1.86)(1469,-1.53)(1500,-1.28)(1526,-1.216)(1563,-1.24)(1604,-1.23)(1660,-1.17)(1725,-1.07)(1766,-0.94)(1799,-0.855)(1833.5,-0.72)}
\B{(1177,-1.97)(1200,-2.0)(1224,-2.07)(1248,-1.97)(1261,-2.02)(1296,-2.315)(1339,-2.59)(1356.5,-2.57)(1387,-2.41)(1426,-2.2)(1456,-2.315)(1482,-2.40)(1524,-2.56)(1563,-2.62)(1582,-2.51)(1604,-2.315)(1647,-1.89)(1690,-1.43)(1725,-1.13)(1742.5,-1.18)(1766,-1.15)(1799,-0.97)(1833.5,-0.90)}
\B{(1177,-1.99)(1196,-1.95)(1222,-1.84)(1239,-1.87)(1259,-1.93)(1283,-1.77)(1317.5,-1.58)(1352,-1.49)(1369.5,-1.54)(1400,-1.86)(1426,-1.99)(1452,-1.88)(1469,-1.76)(1500,-1.40)(1526,-1.04)(1547,-0.81)(1563,-0.71)}
\B{(1177,-2.22)(1200,-2.20)(1224,-2.135)(1244,-2.18)(1287,-2.38)(1339,-2.60)(1361,-2.56)(1391,-2.35)(1421.5,-2.19)(1443,-2.10)(1465,-2.11)(1500,-1.95)(1539,-1.77)(1563,-1.74)(1604,-1.72)(1647,-1.63)(1712,-1.45)(1747,-1.42)(1766,-1.50)(1799,-1.49)(1833.5,-1.56)}
\B{(1747,-1.42)(1766,-1.31)(1773,-1.31)(1833.5,-1.55)}
\B{(1177,-2.86)(1192,-2.89)(1222,-3.18)(1257,-3.63)(1287,-3.99)(1304,-4.08)(1322,-4.02)(1352,-3.69)(1391,-3.33)(1408.5,-3.31)(1447.5,-3.43)(1500,-3.61)(1524,-3.69)(1563,-3.73)(1586,-3.95)(1625.5,-4.34)(1638,-4.22)(1660,-3.92)(1673,-4.04)(1725,-4.51)(1766,-4.77)(1794.5,-4.92)(1810,-5.02)}
\B{(1177,-3.315)(1196,-3.28)(1226,-3.17)(1270,-2.92)(1337,-2.69)(1356.5,-2.76)(1387,-2.86)(1404,-2.77)(1430,-2.51)(1452,-2.33)(1473.5,-2.30)(1500,-2.15)(1530,-1.95)(1563,-1.88)(1604,-1.88)(1647,-1.87)(1699,-1.85)(1729,-1.92)(1766,-2.05)(1799,-1.86)(1833.5,-1.80)}
\B{(1177,-3.315)(1226,-3.27)(1278,-3.135)(1335,-2.95)(1361,-2.89)(1404,-2.91)(1426,-2.82)(1452,-2.72)(1473.5,-2.76)(1504,-2.92)(1524,-2.97)(1563,-3.01)(1588.5,-3.09)(1604,-3.02)(1647,-2.48)(1690,-1.92)(1729,-1.53)(1747,-1.42)}
\B{(1177,-3.725)(1200,-3.76)(1235,-3.94)(1291,-4.23)(1356.5,-4.53)(1400,-4.66)(1452,-4.69)(1500,-4.64)(1530,-4.58)(1563,-4.57)(1582,-4.73)(1593,-4.87)(1625.5,-4.46)(1634,-4.48)(1677,-4.94)(1684,-5.02)}
\B{(1177,-3.725)(1196,-3.74)(1231,-3.91)(1287,-4.22)(1343.5,-4.53)(1400,-4.81)(1443,-4.90)(1473.5,-4.84)(1524,-4.60)(1563,-4.50)(1595,-4.12)(1632,-3.68)(1643,-3.79)(1658,-3.87)(1664,-3.86)(1690,-3.46)(1729,-2.77)(1766,-2.18)(1799,-1.95)(1833.5,-1.80)}
\B{(1177,-5.02)(1200,-4.94)(1231,-4.74)(1270,-4.38)(1294,-4.23)(1322,-3.95)(1365,-3.46)(1400,-3.10)(1417,-3.04)(1465,-3.15)(1524,-3.43)(1563,-3.54)(1578,-3.43)(1595,-3.35)(1608,-3.41)(1632,-3.62)(1643,-3.56)(1682,-3.04)(1721,-2.58)(1755.5,-2.15)(1799,-1.92)(1833.5,-1.80)}
\B{(1222,-5.02)(1257,-4.77)(1296,-4.50)(1313,-4.53)(1330.5,-4.71)(1352,-5.02)}
\B{(1588.5,-5.02)(1593,-4.91)(1601.5,-5.02)}
\B{(1563,-0.71)(1604,-0.685)(1664,-0.73)(1725,-0.80)(1766,-0.80)(1833.5,-0.71)}
\B{(1563,-0.72)(1617,-0.74)(1669,-0.79)(1699,-0.92)(1721,-1.0)(1738,-0.90)(1773,-0.59)(1799,-0.66)(1833.5,-0.71)}
\B{(1563,-0.71)(1604,-0.855)(1638,-1.05)(1673,-1.25)(1699,-1.36)(1716,-1.39)(1747,-1.25)(1777,-1.13)(1803,-0.95)(1833.5,-0.90)}
% L - P
\B{(1834,4.96)(1850,5.02)}
\B{(1858,5.02)(1877,4.70)(1900,4.34)(1920,4.26)(1937,4.265)(1957,4.36)(1967,4.31)(1983,4.08)(2003,3.865)(2017,3.84)(2037,3.88)(2070,3.98)(2097,4.02)(2113,4.0)(2139,3.87)}
\B{(1883,5.02)(1907,4.88)(1930,4.80)(1963,4.75)(1997,4.69)(2020,4.70)(2053,4.78)(2077,4.73)(2097,4.62)(2113,4.56)(2139,4.68)}
\B{(1908,5.02)(1927,4.815)(1958,4.47)(1967,4.47)(1997,4.635)(2030,4.70)(2060,4.75)(2070,4.70)(2097,4.42)(2117,4.24)(2139,4.17)}
\B{(1967,5.02)(1980,4.93)(1997,4.91)(2013,4.93)(2033,5.02)}
\B{(2057,5.02)(2077,4.92)(2087,4.92)(2107,5.02)}
\B{(2118,5.02)(2139,4.70)}
\B{(1834,4.50)(1847,4.47)(1867,4.39)(1887,4.34)(1910,4.30)(1937,4.26)(1963,4.16)(1997,4.01)(2030,3.88)(2063,3.765)(2087,3.775)(2113,3.88)(2139,3.93)}
\B{(1834,4.20)(1850,4.175)(1867,4.06)(1887,3.90)(1913,3.98)(1937,4.03)(1957,3.98)(1997,3.78)(2030,3.635)(2063,3.535)(2097,3.415)(2117,3.39)(2139,3.42)}
\B{(1834,3.71)(1853,3.73)(1880,3.805)(1890,3.80)(1910,3.60)(1943,3.16)(1970,2.865)(1993,2.68)(2013,2.59)(2030,2.585)(2063,2.67)(2083,2.72)(2139,2.805)}
\B{(1834,3.61)(1910,3.60)(1937,3.65)(1983,3.69)(2000,3.65)(2030,3.27)(2057,3.01)(2083,2.91)(2113,2.89)(2139,2.885)}
\B{(1834,3.16)(1847,3.21)(1870,3.37)(1893,3.52)(1910,3.535)(1930,3.37)(1950,3.14)(1990,3.08)(2020,2.945)(2060,2.70)(2090,2.50)(2100,2.485)(2120,2.62)(2139,2.645)}
\B{(1834,3.06)(1850,3.04)(1880,3.11)(1910,3.13)(1943,3.11)(1963,2.88)(1990,2.67)(2030,2.47)(2057,2.34)(2083,2.35)(2100,2.44)(2139,2.39)}
\B{(1834,3.06)(1853,2.995)(1887,2.815)(1923,2.685)(1953,2.635)(1990,2.65)(2030,2.66)(2063,2.64)(2107,2.71)(2139,2.685)}
\B{(1834,2.50)(1857,2.49)(1890,2.405)(1910,2.44)(1937,2.52)(1963,2.54)(1990,2.49)(2030,2.355)(2060,2.34)(2077,2.225)(2087,2.21)(2097,2.25)(2123,2.23)(2139,2.24)}
\B{(1834,2.49)(1863,2.42)(1893,2.34)(1923,2.29)(1953,2.16)(1990,1.96)(2007,1.98)(2033,2.09)(2057,2.01)(2063,2.03)(2083,2.17)(2107,1.98)(2139,1.81)}
\B{(1834,2.31)(1890,2.31)(1907,2.19)(1930,2.09)(1963,1.88)(1997,1.75)(2047,1.47)(2090,1.32)(2123,1.21)(2139,1.12)}
\B{(1834,1.77)(1847,1.79)(1873,1.945)(1903,2.075)(1927,2.115)(1997,2.16)(2017,2.13)(2033,2.08)(2050,2.115)(2070,2.01)(2100,1.765)(2139,1.48)}
\B{(1834,1.53)(1857,1.49)(1903,1.43)(1930,1.47)(1963,1.63)(1990,1.75)(2013,1.815)(2040,1.815)(2060,1.89)(2090,1.88)(2113,1.945)(2139,1.955)}
\B{(1834,1.26)(1853,1.24)(1890,1.125)(1923,1.06)(1957,1.06)(1990,1.14)(2020,1.32)(2043,1.44)(2063,1.44)(2097,1.32)(2123,1.23)(2139,1.26)}
\B{(1834,0.21)(1847,0.225)(1880,0.485)(1913,0.78)(1947,1.04)(1973,1.175)(1990,1.14)(2007,0.98)(2030,0.68)(2037,0.64)(2063,0.895)(2090,1.06)(2120,1.14)(2139,1.15)}
\B{(1834,-0.30)(1850,-0.31)(1870,-0.26)(1913,-0.10)(1963,0.06)(1997,0.29)(2030,0.57)(2037,0.57)(2063,0.16)(2080,-0.10)(2100,-0.18)(2139,-0.10)}
\B{(1834,-0.12)(1850,-0.17)(1870,-0.30)(1903,-0.51)(1930,-0.72)(1967,-0.95)(2007,-1.18)(2043,-1.33)(2077,-1.53)(2093,-1.43)(2117,-1.28)(2139,-1.17)}
\B{(1834,-0.28)(1867,-0.275)(1930,-0.30)(1997,-0.32)(2030,-0.32)(2070,-0.31)(2087,-0.36)(2107,-0.675)(2115,-0.72)(2139,-0.66)}
\B{(1834,-0.576)(1897,-0.56)(1937,-0.576)(1973,-0.60)(1990,-0.59)(2003,-0.53)(2030,-0.35)(2057,-0.23)(2080,-0.206)(2107,-0.265)(2130,-0.31)(2139,-0.31)}
\B{(1834,-0.97)(1847,-0.95)(1890,-0.79)(1920,-0.71)(1947,-0.68)(1975,-0.70)(1993,-0.66)(2043,-0.68)(2063,-0.66)(2093,-0.56)(2123,-0.47)(2139,-0.47)}
\B{(1834,-1.13)(1863,-1.17)(1897,-1.18)(1930,-1.13)(1953,-1.05)(1967,-0.95)(1983,-0.88)(2007,-0.93)(2037,-1.04)(2063,-0.97)(2093,-0.89)(2117,-0.905)(2139,-0.93)}
\B{(1834,-1.25)(1863,-1.25)(1903,-1.21)(1943,-1.13)(1980,-1.04)(2007,-0.99)(2050,-0.83)(2080,-0.81)(2139,-0.80)}
\B{(1834,-1.76)(1863,-1.63)(1927,-1.46)(1943,-1.41)(1980,-1.31)(2017,-1.23)(2037,-1.28)(2063,-1.40)(2093,-1.43)(2117,-1.41)(2139,-1.34)}
\B{(1834,-1.79)(1847,-1.86)(1880,-2.11)(1890,-2.10)(1900,-2.0)(1930,-1.53)(1957,-1.18)(1980,-1.085)(1997,-1.13)(2017,-1.23)}
\B{(1834,-2.95)(1843,-2.91)(1873,-2.50)(1882,-2.40)(1889,-2.35)(1898,-2.40)(1933,-2.76)(1943,-2.79)(1957,-2.725)(1997,-2.35)(2043,-1.92)(2067,-1.69)(2077,-1.67)(2087,-1.69)(2107,-1.79)(2117,-1.75)(2139,-1.50)}
\B{(1834,-3.22)(1843,-3.27)(1865,-3.58)(1873,-3.58)(1930,-3.04)(1943,-3.0)(1953,-3.05)(1983,-3.38)(1991,-3.42)(2000,-3.36)(2043,-2.87)(2083,-2.38)(2100,-2.10)(2108,-2.05)(2117,-2.05)(2125,-2.09)(2132,-2.09)(2139,-2.05)}
\B{(1834,-3.91)(1843,-3.86)(1865,-3.67)(1875,-3.71)(1910,-4.17)(1920,-4.20)(1930,-4.15)(1963,-3.79)(1982,-3.56)(1993,-3.51)(2003,-3.43)(2043,-2.99)(2083,-2.53)(2123,-2.12)(2132,-2.13)(2139,-2.10)}
\B{(1834,-4.0)(1847,-4.07)(1880,-4.36)(1897,-4.41)(1913,-4.36)(1920,-4.38)(1945,-4.59)(1952,-4.59)(1997,-4.07)(2015,-3.84)(2022,-3.82)(2063,-4.23)(2103,-4.56)(2139,-4.75)}
\B{(1834,-4.85)(1847,-4.83)(1873,-4.68)(1907,-4.38)(1930,-4.15)(1953,-3.92)(1993,-3.53)(2000,-3.56)(2013,-3.74)(2022,-3.74)(2063,-3.17)(2097,-2.64)(2132,-2.19)(2139,-2.20)}
\B{(1834,-4.99)(1850,-4.95)(1887,-4.74)(1897,-4.73)(1910,-4.79)(1922,-4.86)(1930,-4.81)(1945,-4.68)(1950,-4.68)(1993,-5.02)}
\B{(1908,-5.02)(1921,-4.90)(1930,-4.94)(1935,-5.02)}
% jumps at Z/L
\J{5}{0.92}\J{5}{0.92}\J{4.5}{0.92}\J{3.93}{1.2}
\J{0.68}{0.21}
\J{0.06}{-4.0}\J{0.06}{-4.0}\J{-0.7}{-3.9}
\J{-4.85}{-5}
% high-symmetry lines
\V{396.5}\V{704.5}\V{782.5}\V{1177}\V{1524}\V{1563.5}\V{1766.5}\V{1833.5}
\end{axis}
\end{tikzpicture}
\end{document}
